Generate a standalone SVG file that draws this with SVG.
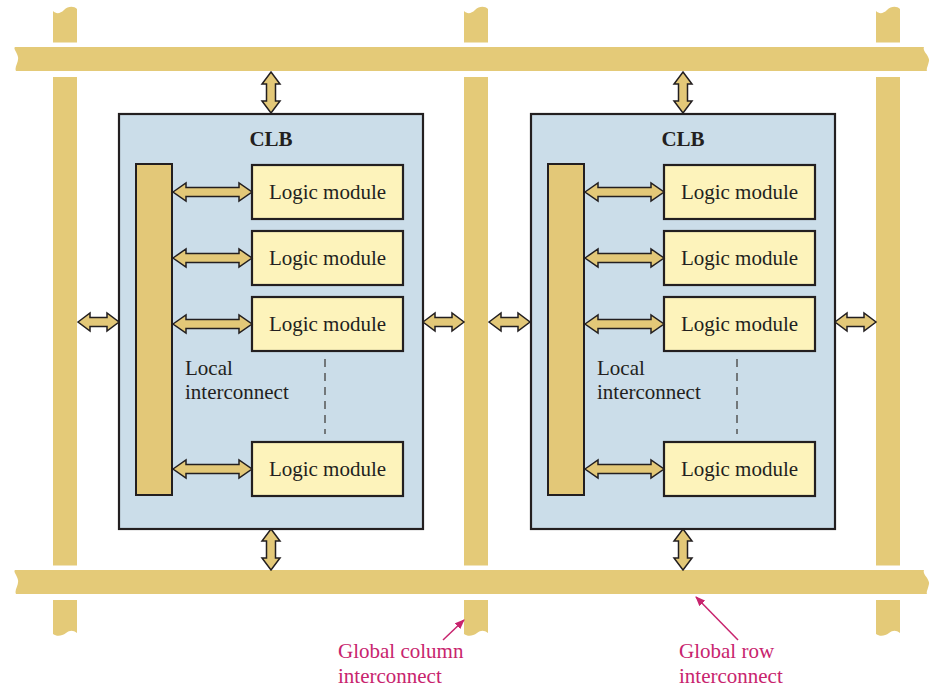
<svg xmlns="http://www.w3.org/2000/svg" width="938" height="697" viewBox="0 0 938 697">
<style>
.bus{fill:#e4ca78;}
.clb{fill:#cbdde9;stroke:#231f20;stroke-width:2.2;}
.bar{fill:#e3c878;stroke:#231f20;stroke-width:2;}
.mod{fill:#fdf3bb;stroke:#231f20;stroke-width:2.2;}
.arr{fill:#e3c878;stroke:#231f20;stroke-width:1.5;stroke-linejoin:miter;}
.t{font-family:"Liberation Serif","Times New Roman",serif;font-size:21px;fill:#231f20;}
.tb{font-family:"Liberation Serif","Times New Roman",serif;font-size:21px;font-weight:bold;fill:#231f20;}
.lbl{font-family:"Liberation Serif","Times New Roman",serif;font-size:21px;fill:#c8246e;}
.dash{stroke:#555;stroke-width:1.5;stroke-dasharray:8,6;fill:none;}
.lead{stroke:#c8246e;stroke-width:1.5;fill:none;}
</style>
<defs>
<path id="aS" d="M0,0 L12,-9 L12,-4.5 L29,-4.5 L29,-9 L41,0 L29,9 L29,4.5 L12,4.5 L12,9 Z"/>
<path id="aL" d="M0,0 L13,-9 L13,-4.5 L66,-4.5 L66,-9 L79,0 L66,9 L66,4.5 L13,4.5 L13,9 Z"/>
<marker id="mh" markerWidth="10" markerHeight="8" refX="9" refY="4" orient="auto" markerUnits="userSpaceOnUse">
<path d="M0,0 L10,4 L0,8 Z" fill="#c8246e"/>
</marker>
<path id="colTop" d="M0,11 C3,14 7,14 11,10 C15,6 21,6 24,9 L24,42.5 L0,42.5 Z"/>
<path id="colBot" d="M0,600 L24,600 L24,633 C20,630 17,630 13,633 C9,636 4,637 0,634 Z"/>
</defs>

<g id="global-columns">
<g id="col-left" transform="translate(53,0)">
<use href="#colTop" class="bus"/>
<rect class="bus" x="0" y="77" width="24" height="488.5"/>
<use href="#colBot" class="bus"/>
</g>
<g id="col-middle" transform="translate(464,0)">
<use href="#colTop" class="bus"/>
<rect class="bus" x="0" y="77" width="24" height="488.5"/>
<use href="#colBot" class="bus"/>
</g>
<g id="col-right" transform="translate(876,0)">
<use href="#colTop" class="bus"/>
<rect class="bus" x="0" y="77" width="24" height="488.5"/>
<use href="#colBot" class="bus"/>
</g>
</g>

<g id="global-rows">
<path id="row-top" class="bus" d="M15,47 L924,47 C922,51 930,56 929,61 C928,66 926,69 927,71 L16,71 C14,67 19,62 18,57 C17,52 13,49 15,47 Z"/>
<path id="row-bottom" class="bus" d="M15,570 L924,570 C922,574 930,579 929,584 C928,589 926,592 927,594 L16,594 C14,590 19,585 18,580 C17,575 13,572 15,570 Z"/>
</g>

<g id="clb-left">
<rect class="clb" x="119" y="114" width="304" height="415"/>
<text class="tb" x="271" y="146" text-anchor="middle">CLB</text>
<rect class="bar" x="136" y="164" width="36" height="331"/>
<rect class="mod" x="252" y="165" width="151" height="54"/>
<text class="t" x="327.5" y="199" text-anchor="middle">Logic module</text>
<rect class="mod" x="252" y="231" width="151" height="54"/>
<text class="t" x="327.5" y="265" text-anchor="middle">Logic module</text>
<rect class="mod" x="252" y="297" width="151" height="54"/>
<text class="t" x="327.5" y="331" text-anchor="middle">Logic module</text>
<rect class="mod" x="252" y="442" width="151" height="54"/>
<text class="t" x="327.5" y="476" text-anchor="middle">Logic module</text>
<text class="t" x="185" y="375">Local</text>
<text class="t" x="185" y="399">interconnect</text>
<line class="dash" x1="325" y1="359" x2="325" y2="434"/>
</g>

<g id="clb-right">
<rect class="clb" x="531" y="114" width="304" height="415"/>
<text class="tb" x="683" y="146" text-anchor="middle">CLB</text>
<rect class="bar" x="548" y="164" width="36" height="331"/>
<rect class="mod" x="664" y="165" width="151" height="54"/>
<text class="t" x="739.5" y="199" text-anchor="middle">Logic module</text>
<rect class="mod" x="664" y="231" width="151" height="54"/>
<text class="t" x="739.5" y="265" text-anchor="middle">Logic module</text>
<rect class="mod" x="664" y="297" width="151" height="54"/>
<text class="t" x="739.5" y="331" text-anchor="middle">Logic module</text>
<rect class="mod" x="664" y="442" width="151" height="54"/>
<text class="t" x="739.5" y="476" text-anchor="middle">Logic module</text>
<text class="t" x="597" y="375">Local</text>
<text class="t" x="597" y="399">interconnect</text>
<line class="dash" x1="737" y1="359" x2="737" y2="434"/>
</g>

<g id="connectors">
<use href="#aL" class="arr" transform="translate(173,192)"/>
<use href="#aL" class="arr" transform="translate(173,258)"/>
<use href="#aL" class="arr" transform="translate(173,324)"/>
<use href="#aL" class="arr" transform="translate(173,469)"/>
<use href="#aL" class="arr" transform="translate(585,192)"/>
<use href="#aL" class="arr" transform="translate(585,258)"/>
<use href="#aL" class="arr" transform="translate(585,324)"/>
<use href="#aL" class="arr" transform="translate(585,469)"/>
<use href="#aS" class="arr" transform="translate(78,322)"/>
<use href="#aS" class="arr" transform="translate(423,322)"/>
<use href="#aS" class="arr" transform="translate(489,322)"/>
<use href="#aS" class="arr" transform="translate(835,322)"/>
<use href="#aS" class="arr" transform="translate(271,72) rotate(90)"/>
<use href="#aS" class="arr" transform="translate(271,529) rotate(90)"/>
<use href="#aS" class="arr" transform="translate(683,72) rotate(90)"/>
<use href="#aS" class="arr" transform="translate(683,529) rotate(90)"/>
<line class="lead" x1="443" y1="640" x2="464" y2="620" marker-end="url(#mh)"/>
<line class="lead" x1="738" y1="640" x2="696" y2="597" marker-end="url(#mh)"/>
</g>

<g id="labels">
<text class="lbl" x="338" y="658">Global column</text>
<text class="lbl" x="338" y="683">interconnect</text>
<text class="lbl" x="679" y="658">Global row</text>
<text class="lbl" x="679" y="683">interconnect</text>
</g>
</svg>
